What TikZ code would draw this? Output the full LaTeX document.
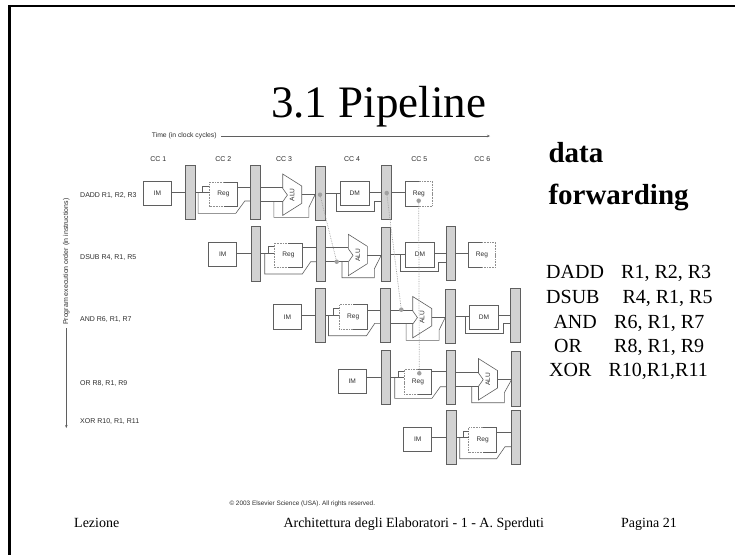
\documentclass[tikz,border=0pt]{standalone}
\usepackage{fontspec}
\setmainfont{Liberation Serif}
\setsansfont{Liberation Sans}
\usetikzlibrary{arrows.meta, positioning}
\definecolor{wiregray}{RGB}{95,95,95}
\definecolor{latchfill}{RGB}{210,210,210}
\definecolor{forwardgray}{RGB}{160,160,160}
\definecolor{figtext}{RGB}{45,45,45}
\tikzset{
  % Pipeline latch
  latch/.style={
    rectangle, minimum width=10pt, minimum height=54.4pt, inner sep=0pt, outer sep=0pt,
    fill=latchfill, draw=wiregray, line width=0.6pt
  },
  % IM and DM boxes
  unitbox/.style={
    rectangle, minimum width=28.4pt, minimum height=24.5pt, inner sep=0pt, outer sep=0pt,
    draw=wiregray, line width=0.6pt, text=figtext, font=\sffamily\fontsize{6.6}{7}\selectfont
  },
  % Register box, outline drawn afterwards
  regbox/.style={
    rectangle, minimum width=28pt, minimum height=24.6pt, inner sep=0pt, outer sep=0pt,
    text=figtext, font=\sffamily\fontsize{6.6}{7}\selectfont
  },
  % ALU label box, outline from the pic
  alubox/.style={
    rectangle, minimum width=19pt, minimum height=41.4pt, inner sep=0pt, outer sep=0pt,
    text=figtext, font=\sffamily\fontsize{6.6}{7}\selectfont
  },
  alubody/.pic={
    \draw[wire] (-9.5,-20.7) -- (9.5,-8.7) -- (9.5,8.7) -- (-9.5,20.7) -- (-9.5,7) -- (-4.8,0.3) -- (-9.5,-6.3) -- cycle;
  },
  % Wires
  wire/.style={draw=wiregray, line width=0.6pt},
  halfdot/.style={draw=wiregray!70, line width=0.6pt, densely dotted},
  fwdline/.style={draw=forwardgray, line width=0.7pt, densely dotted},
  fwddot/.style={circle, fill=forwardgray, minimum size=4.5pt, inner sep=0pt, outer sep=0pt},
  axisarr/.style={-{Stealth[length=3pt,width=2.5pt]}, draw=wiregray, line width=0.6pt},
  % Texts
  figlabel/.style={text=figtext, font=\sffamily\fontsize{7}{8}\selectfont, inner sep=0pt},
  rowlabel/.style={figlabel, anchor=west},
  slidetext/.style={anchor=base west, inner sep=0pt, font=\fontsize{20}{24}\selectfont},
  foottext/.style={anchor=base west, inner sep=0pt, font=\fontsize{14}{16}\selectfont},
  boldtext/.style={anchor=base west, inner sep=0pt, font=\bfseries\fontsize{29}{32}\selectfont},
  frameline/.style={draw=black, line width=2.6pt},
}
\begin{document}
\begin{tikzpicture}[x=1pt, y=-1pt]
\useasboundingbox (0,0) rectangle (735,555);

%% -- SLIDE ------------------------------------------------------------------

\coordinate (frameright) at (735,6);
\coordinate (framecorner) at (9.5,6);
\coordinate (framebottom) at (9.5,555);
\draw[frameline] (frameright) -- (framecorner) -- (framebottom);

\node[anchor=base west, inner sep=0pt, font=\fontsize{45}{50}\selectfont] (title) at (271,117) {3.1 Pipeline};
\node[boldtext] (dataword) at (548.3,162.3) {data};
\node[boldtext] (forwardword) at (548.3,204) {forwarding};
\node[slidetext] (code1) at (546,278.3) {DADD\hspace{17.2pt}R1, R2, R3};
\node[slidetext] (code2) at (546,303.3) {DSUB\hspace{23pt}R4, R1, R5};
\node[slidetext] (code3) at (553.3,328.3) {AND\hspace{17.4pt}R6, R1, R7};
\node[slidetext] (code4) at (554,352.3) {OR\hspace{32.2pt}R8, R1, R9};
\node[slidetext] (code5) at (549,376.7) {XOR\hspace{17.1pt}R10,R1,R11};
\node[foottext] (footleft) at (74,527.7) {Lezione};
\node[foottext] (footmid) at (283.3,527.7) {Architettura degli Elaboratori - 1 - A. Sperduti};
\node[foottext] (footright) at (621,527.7) {Pagina 21};
\node[figlabel, anchor=west, font=\sffamily\fontsize{6.4}{7}\selectfont] (copyright) at (229.3,504.3) {© 2003 Elsevier Science (USA). All rights reserved.};

%% -- AXES AND LABELS --------------------------------------------------------

\node[figlabel, anchor=west, font=\sffamily\fontsize{6.8}{8}\selectfont] (timelabel) at (151.7,136) {Time (in clock cycles)};
\coordinate (timeend) at (490,136);
\draw[axisarr] (timelabel.east) ++(4.5,0) -- (timeend);

\node[figlabel] (cc1) at (158.3,159.3) {CC 1};
\node[figlabel] (cc2) at (223.3,159.3) {CC 2};
\node[figlabel] (cc3) at (284,159.3) {CC 3};
\node[figlabel] (cc4) at (352,159.3) {CC 4};
\node[figlabel] (cc5) at (419.3,159.3) {CC 5};
\node[figlabel] (cc6) at (482.3,159.3) {CC 6};

\node[figlabel, rotate=90] (orderlabel) at (66.3,261.7) {Program execution order (in instructions)};
\coordinate (orderend) at (66.3,428);
\draw[axisarr] (orderlabel.west) ++(0,3) -- (orderend);

\node[rowlabel] (row1) at (80,195.7) {DADD R1, R2, R3};
\node[rowlabel] (row2) at (80,257) {DSUB R4, R1, R5};
\node[rowlabel] (row3) at (80,319) {AND R6, R1, R7};
\node[rowlabel] (row4) at (80,383) {OR R8, R1, R9};
\node[rowlabel] (row5) at (80,421.3) {XOR R10, R1, R11};

%% -- ROW 1 ------------------------------------------------------------------

\node[unitbox] (im1) at (157.5,193.5) {IM};
\node[latch] (bar11) at (190.5,192.5) {};
\node[regbox] (reg1) at (223.5,194.3) {Reg};
\node[latch] (bar12) at (255.6,192.5) {};
\node[alubox] (alu1) at (292.2,194.7) {\rotatebox{90}{ALU}};
\pic at (alu1) {alubody};
\node[latch] (bar13) at (320.5,193.5) {};
\node[unitbox, minimum width=29pt] (dm1) at (354.8,193.5) {DM};
\node[latch] (bar14) at (386.5,192.5) {};
\node[regbox, minimum width=27pt] (regw1) at (418.8,193.5) {Reg};

\draw[halfdot] (reg1.north) -| (reg1.west) |- (reg1.south);
\draw[wire] (reg1.north) -| (reg1.east) |- (reg1.south);
\draw[wire] (regw1.north) -| (regw1.west) |- (regw1.south);
\draw[halfdot] (regw1.north) -| (regw1.east) |- (regw1.south);

\draw[wire] (im1.east |- bar11.west) -- (bar11.west);
\draw[wire] (bar11.east) -- (reg1.west |- bar11.east);
\draw[wire] (bar11.east) ++(6.3,0) -- ++(0,-6) -- ++(7.3,0);
\draw[wire] (bar11.east) ++(2.6,0) -- ++(0,20.8) -- ++(37.7,0) -- ++(9,-12.3) coordinate (j) -- (j -| bar12.west);
\draw[wire] ([yshift=7pt]reg1.east) coordinate (j) -- (j -| bar12.west);
\draw[wire] ([yshift=5.2pt]bar12.east) coordinate (j) -- (j -| alu1.west);
\draw[wire] ([yshift=-8.8pt]bar12.east) coordinate (j) -- (j -| alu1.west);
\draw[wire] ([yshift=-8.8pt]bar12.east) ++(13.3,0) -- ++(0,16) -- ++(35,0) -- ++(0,-10) -- ++(6,-12.3);
\draw[wire] (alu1.east) -- (alu1.east -| bar13.west);
\draw[wire] (bar13.east) -- (dm1.west |- bar13.east);
\draw[wire] (bar13.east) ++(11,0) -- ++(0,17.5) -- ++(37.6,0) -- ++(0,-9.3) coordinate (j) -- (j -| bar14.west);
\draw[wire] (dm1.east |- bar14.west) -- (bar14.west);
\draw[wire] (bar14.east) -- (regw1.west |- bar14.east);

%% -- ROW 2 ------------------------------------------------------------------

\node[unitbox, minimum width=28pt] (im2) at (222.7,254.5) {IM};
\node[latch, minimum width=9.4pt] (bar21) at (256,253.7) {};
\node[regbox, minimum width=28.7pt] (reg2) at (288.4,255.3) {Reg};
\node[latch, minimum width=9.4pt] (bar22) at (320.7,253.7) {};
\node[alubox] (alu2) at (357.8,255) {\rotatebox{90}{ALU}};
\pic at (alu2) {alubody};
\node[latch, minimum width=9.6pt, minimum height=53.7pt] (bar23) at (385.9,254.2) {};
\node[unitbox, minimum width=29.4pt] (dm2) at (420,254.6) {DM};
\node[latch, minimum width=9.6pt] (bar24) at (450.9,253.5) {};
\node[regbox, minimum width=27.3pt] (regw2) at (482,254.6) {Reg};

\draw[halfdot] (reg2.north) -| (reg2.west) |- (reg2.south);
\draw[wire] (reg2.north) -| (reg2.east) |- (reg2.south);
\draw[wire] (regw2.north) -| (regw2.west) |- (regw2.south);
\draw[halfdot] (regw2.north) -| (regw2.east) |- (regw2.south);

\draw[wire] (im2.east |- bar21.west) -- (bar21.west);
\draw[wire] (bar21.east) -- (reg2.west |- bar21.east);
\draw[wire] (bar21.east) ++(7.6,0) -- ++(0,-7) -- ++(5.7,0);
\draw[wire] (bar21.east) ++(4,0) -- ++(0,20.3) -- ++(37.6,0) -- ++(8.4,-12.3) coordinate (j) -- (j -| bar22.west);
\draw[wire] ([yshift=7.6pt]reg2.east) coordinate (j) -- (j -| bar22.west);
\draw[wire] ([yshift=6pt]bar22.east) coordinate (j) -- (j -| alu2.west);
\draw[wire] ([yshift=-8pt]bar22.east) coordinate (j) -- (j -| alu2.west);
\draw[wire] ([yshift=-8pt]bar22.east) ++(16.6,0) -- ++(0,16) -- ++(32.3,0) -- ++(0,-8.7) -- ++(6.7,-13.3);
\draw[wire] (alu2.east) -- (alu2.east -| bar23.west);
\draw[wire] (bar23.east) -- (dm2.west |- bar23.east);
\draw[wire] (bar23.east) ++(10,0) -- ++(0,17.5) -- ++(37.6,0) -- ++(0,-9.4) coordinate (j) -- (j -| bar24.west);
\draw[wire] (dm2.east |- bar24.west) -- (bar24.west);
\draw[wire] (bar24.east) -- (regw2.west |- bar24.east);

%% -- ROW 3 ------------------------------------------------------------------

\node[unitbox] (im3) at (287.5,317) {IM};
\node[latch] (bar31) at (320.5,315.3) {};
\node[regbox, minimum width=27.7pt] (reg3) at (353.2,317) {Reg};
\node[latch] (bar32) at (385.5,315.3) {};
\node[alubox, minimum height=41pt] (alu3) at (422.2,317.2) {\rotatebox{90}{ALU}};
\pic at (alu3) {alubody};
\node[latch] (bar33) at (450.5,316.3) {};
\node[unitbox, minimum width=29.4pt] (dm3) at (484,317.5) {DM};
\node[latch] (bar34) at (515.5,315.3) {};

\draw[halfdot] (reg3.north) -| (reg3.west) |- (reg3.south);
\draw[wire] (reg3.north) -| (reg3.east) |- (reg3.south);

\draw[wire] (im3.east |- bar31.west) -- (bar31.west);
\draw[wire] (bar31.east) -- (reg3.west |- bar31.east);
\draw[wire] (bar31.east) ++(7.6,0) -- ++(0,-7) -- ++(6,0);
\draw[wire] (bar31.east) ++(3,0) -- ++(0,20.4) -- ++(38,0) -- ++(8.3,-12.4) coordinate (j) -- (j -| bar32.west);
\draw[wire] ([yshift=7pt]reg3.east) coordinate (j) -- (j -| bar32.west);
\draw[wire] ([yshift=5.3pt]bar32.east) coordinate (j) -- (j -| alu3.west);
\draw[wire] ([yshift=-8pt]bar32.east) coordinate (j) -- (j -| alu3.west);
\draw[wire] ([yshift=-8pt]bar32.east) ++(15.6,0) -- ++(0,17) -- ++(33,0) -- ++(0,-10.3) -- ++(6,-12.3);
\draw[wire] (alu3.east) -- (alu3.east -| bar33.west);
\draw[wire] (bar33.east) -- (dm3.west |- bar33.east);
\draw[wire] (bar33.east) ++(9.6,0) -- ++(0,17) -- ++(38,0) -- ++(0,-10) coordinate (j) -- (j -| bar34.west);
\draw[wire] (dm3.east |- bar34.west) -- (bar34.west);

%% -- ROW 4 ------------------------------------------------------------------

\node[unitbox, minimum width=28pt] (im4) at (352.3,381.3) {IM};
\node[latch, minimum width=9.4pt] (bar41) at (386,377.5) {};
\node[regbox, minimum width=27.7pt] (reg4) at (417.9,381.6) {Reg};
\node[latch, minimum width=9.7pt] (bar42) at (450.9,377.5) {};
\node[alubox, minimum height=42pt] (alu4) at (488,379.3) {\rotatebox{90}{ALU}};
\pic at (alu4) {alubody};
\node[latch, minimum width=9.4pt] (bar43) at (516,378.8) {};

\draw[halfdot] (reg4.north) -| (reg4.west) |- (reg4.south);
\draw[wire] (reg4.north) -| (reg4.east) |- (reg4.south);

\draw[wire] (im4.east |- bar41.west) -- (bar41.west);
\draw[wire] (bar41.east) -- (reg4.west |- bar41.east);
\draw[wire] (bar41.east) ++(7.6,0) -- ++(0,-6.5) -- ++(5.7,0);
\draw[wire] (bar41.east) ++(4,0) -- ++(0,20.8) -- ++(37.3,0) -- ++(8.3,-11.6) coordinate (j) -- (j -| bar42.west);
\draw[wire] ([yshift=10.6pt]reg4.east) coordinate (j) -- (j -| bar42.west);
\draw[wire] ([yshift=4.8pt]bar42.east) coordinate (j) -- (j -| alu4.west);
\draw[wire] ([yshift=-8.8pt]bar42.east) coordinate (j) -- (j -| alu4.west);
\draw[wire] ([yshift=-8.8pt]bar42.east) ++(16,0) -- ++(0,16.4) -- ++(32.6,0) -- ++(0,-10) -- ++(7,-12.7);
\draw[wire] (alu4.east) -- (alu4.east -| bar43.west);

%% -- ROW 5 ------------------------------------------------------------------

\node[unitbox, minimum width=28pt] (im5) at (417.7,439.2) {IM};
\node[latch] (bar51) at (451,437.5) {};
\node[regbox] (reg5) at (482.7,439.7) {Reg};
\node[latch, minimum width=9.4pt] (bar52) at (515.7,437.5) {};

\draw[halfdot] (reg5.north) -| (reg5.west) |- (reg5.south);
\draw[wire] (reg5.north) -| (reg5.east) |- (reg5.south);

\draw[wire] (im5.east |- bar51.west) -- (bar51.west);
\draw[wire] (bar51.east) -- (reg5.west |- bar51.east);
\draw[wire] (bar51.east) ++(7.3,0) -- ++(0,-6.2) -- ++(5.4,0);
\draw[wire] (bar51.east) ++(3.7,0) -- ++(0,21.2) -- ++(37,0) -- ++(8.3,-12) coordinate (j) -- (j -| bar52.west);
\draw[wire] ([yshift=7.4pt]reg5.east) coordinate (j) -- (j -| bar52.west);

%% -- FORWARDING PATHS -------------------------------------------------------

\node[fwddot] (fwd1) at (320,194.7) {};
\node[fwddot] (fwd2) at (336.7,261.7) {};
\node[fwddot] (fwd3) at (386.7,193) {};
\node[fwddot] (fwd4) at (401.3,309.7) {};
\node[fwddot] (fwd5) at (418.7,200.7) {};
\node[fwddot] (fwd6) at (419.3,373.3) {};

\draw[fwdline] (fwd1) -- (fwd2);
\draw[fwdline] (fwd3) -- (fwd4);
\draw[fwdline] (fwd5) -- (fwd6);

\end{tikzpicture}
\end{document}
